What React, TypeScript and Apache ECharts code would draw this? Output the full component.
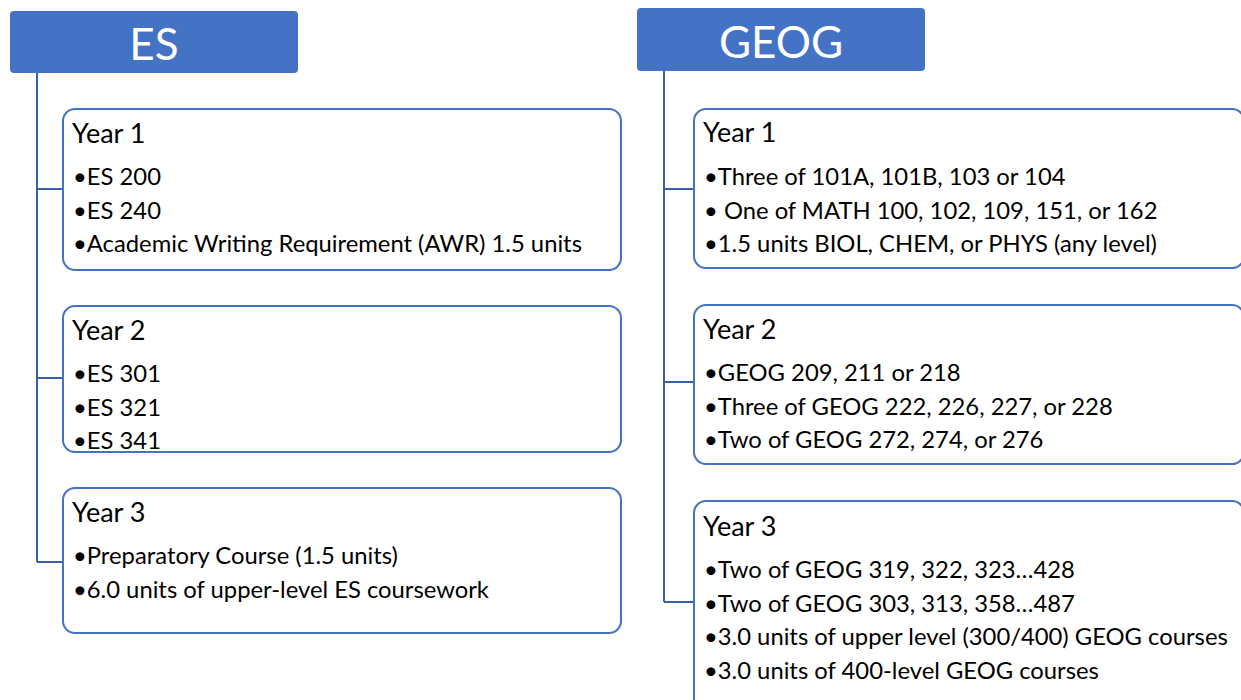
import React, { useEffect, useRef } from "react";
import * as echarts from "echarts";

const columnTitles = ["ES", "GEOG"];
const yearLabels = ["Year 1", "Year 2", "Year 3"];
const esItems = [
  ["ES 200", "ES 240", "Academic Writing Requirement (AWR) 1.5 units"],
  ["ES 301", "ES 321", "ES 341"],
  ["Preparatory Course (1.5 units)", "6.0 units of upper-level ES coursework"],
];
const geogItems = [
  ["Three of 101A, 101B, 103 or 104", " One of MATH 100, 102, 109, 151, or 162", "1.5 units BIOL, CHEM, or PHYS (any level)"],
  ["GEOG 209, 211 or 218", "Three of GEOG 222, 226, 227, or 228", "Two of GEOG 272, 274, or 276"],
  ["Two of GEOG 319, 322, 323…428", "Two of GEOG 303, 313, 358…487", "3.0 units of upper level (300/400) GEOG courses", "3.0 units of 400-level GEOG courses"],
];

// layout (pixels)
const layout = [
  {
    header: { x: 10, y: 11, w: 288, h: 62 },
    spineX: 37,
    boxX: 63,
    boxW: 558,
    boxes: [
      { y: 109, h: 161, titleY: 132, itemY: 176, connY: 189 },
      { y: 306, h: 146, titleY: 329, itemY: 373, connY: 378 },
      { y: 488, h: 145, titleY: 511, itemY: 555, connY: 562 },
    ],
  },
  {
    header: { x: 637, y: 8, w: 288, h: 63 },
    spineX: 664,
    boxX: 694,
    boxW: 550,
    boxes: [
      { y: 109, h: 159, titleY: 131, itemY: 176, connY: 189 },
      { y: 305, h: 159, titleY: 328, itemY: 372, connY: 382 },
      { y: 501, h: 215, titleY: 525, itemY: 569, connY: 602 },
    ],
  },
];

const FILL = "#4472C4";
const LINE = "#3A5FA8";
const FONT = "Lato, 'Open Sans', sans-serif";

export default function App() {
  const ref = useRef<HTMLDivElement>(null);
  useEffect(() => {
    const chart = echarts.init(ref.current!, null, { renderer: "svg" });
    const elements: any[] = [];
    const allItems = [esItems, geogItems];
    layout.forEach((col, ci) => {
      const hd = col.header;
      elements.push({
        type: "rect",
        shape: { x: hd.x, y: hd.y, width: hd.w, height: hd.h, r: 4 },
        style: { fill: FILL },
      });
      elements.push({
        type: "text",
        x: hd.x + hd.w / 2,
        y: hd.y + hd.h / 2 + 1,
        style: {
          text: columnTitles[ci],
          fill: "#ffffff",
          font: `44px ${FONT}`,
          align: "center",
          verticalAlign: "middle",
        },
      });
      const lastConn = col.boxes[col.boxes.length - 1].connY;
      elements.push({
        type: "line",
        shape: { x1: col.spineX, y1: hd.y + hd.h, x2: col.spineX, y2: lastConn },
        style: { stroke: LINE, lineWidth: 2 },
      });
      col.boxes.forEach((b, bi) => {
        elements.push({
          type: "line",
          shape: { x1: col.spineX, y1: b.connY, x2: col.boxX, y2: b.connY },
          style: { stroke: LINE, lineWidth: 2 },
        });
        elements.push({
          type: "rect",
          shape: { x: col.boxX, y: b.y, width: col.boxW, height: b.h, r: 12 },
          style: { fill: "#ffffff", stroke: FILL, lineWidth: 2 },
        });
        elements.push({
          type: "text",
          x: col.boxX + 9,
          y: b.titleY,
          style: {
            text: yearLabels[bi],
            fill: "#000000",
            font: `27px ${FONT}`,
            align: "left",
            verticalAlign: "middle",
          },
        });
        allItems[ci][bi].forEach((it, ii) => {
          elements.push({
            type: "text",
            x: col.boxX + 10,
            y: b.itemY + ii * 33.7,
            style: {
              text: "•" + it,
              fill: "#000000",
              font: `23.8px ${FONT}`,
              align: "left",
              verticalAlign: "middle",
            },
          });
        });
      });
    });
    chart.setOption({
      animation: false,
      backgroundColor: "#ffffff",
      graphic: { elements },
    });
    return () => chart.dispose();
  }, []);
  return (
    <div
      ref={ref}
      style={{ position: "fixed", left: 0, top: 0, width: 1241, height: 700 }}
    />
  );
}
